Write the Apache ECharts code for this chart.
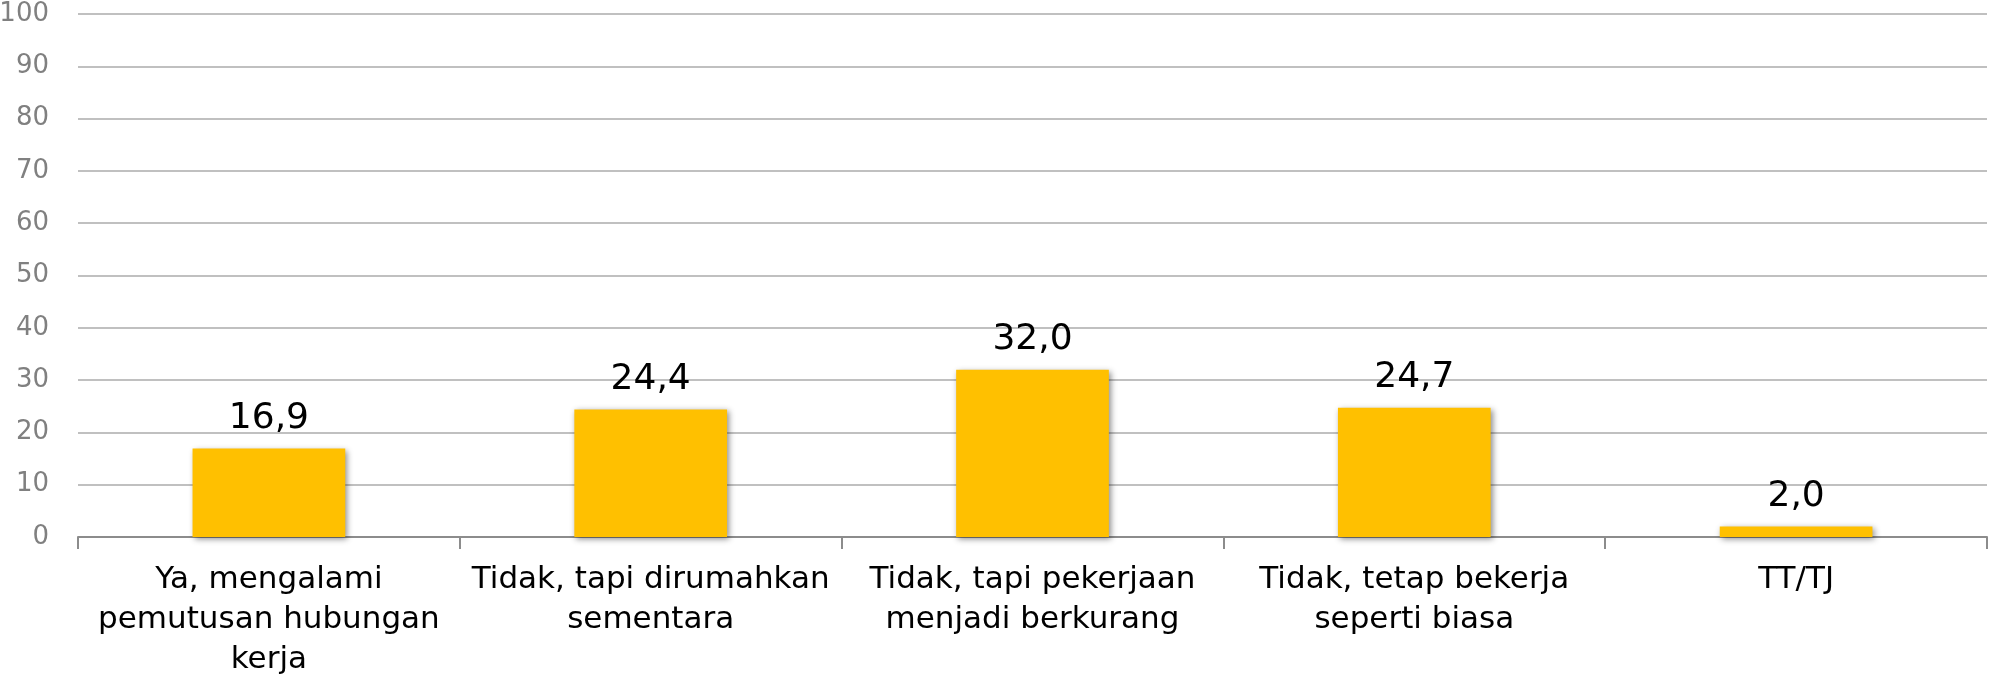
<!DOCTYPE html>
<html>
<head>
<meta charset="utf-8">
<script src="https://cdn.jsdelivr.net/npm/echarts@6/dist/echarts.min.js"></script>
<style>
html, body { margin: 0; padding: 0; background: #fff; }
#main { width: 1990px; height: 676px; }
</style>
</head>
<body>
<div id="main"></div>
<script>
var categories = ['Ya, mengalami\npemutusan hubungan\nkerja', 'Tidak, tapi dirumahkan\nsementara', 'Tidak, tapi pekerjaan\nmenjadi berkurang', 'Tidak, tetap bekerja\nseperti biasa', 'TT/TJ'];
var values = [16.9, 24.4, 32.0, 24.7, 2.0];

var chart = echarts.init(document.getElementById('main'));
var option = {
    animation: false,
    grid: { left: 78, right: 3, top: 14, bottom: 139, outerBoundsMode: 'none', containLabel: false },
    xAxis: {
        type: 'category',
        data: categories,
        axisLine: { lineStyle: { color: '#8c8c8c', width: 2 } },
        axisTick: { show: true, length: 12, lineStyle: { color: '#8c8c8c', width: 2 } },
        axisLabel: {
            color: '#000',
            fontFamily: 'DejaVu Sans',
            fontSize: 31,
            lineHeight: 40,
            margin: 23,
            interval: 0
        }
    },
    yAxis: {
        type: 'value',
        min: 0,
        max: 100,
        interval: 10,
        axisLine: { show: false },
        axisTick: { show: false },
        splitLine: { lineStyle: { color: '#c0c0c0', width: 2 } },
        axisLabel: {
            color: '#808080',
            fontFamily: 'DejaVu Sans',
            fontSize: 26,
            margin: 29
        }
    },
    series: [{
        type: 'bar',
        data: values,
        barWidth: '40%',
        itemStyle: {
            color: '#FFC000',
            shadowBlur: 6,
            shadowColor: 'rgba(0,0,0,0.45)',
            shadowOffsetX: 2,
            shadowOffsetY: 2
        },
        label: {
            show: true,
            position: 'top',
            distance: 12,
            color: '#000',
            fontFamily: 'DejaVu Sans',
            fontSize: 36,
            formatter: function (p) {
                return p.value.toFixed(1).replace('.', ',');
            }
        }
    }]
};
chart.setOption(option);
</script>
</body>
</html>
